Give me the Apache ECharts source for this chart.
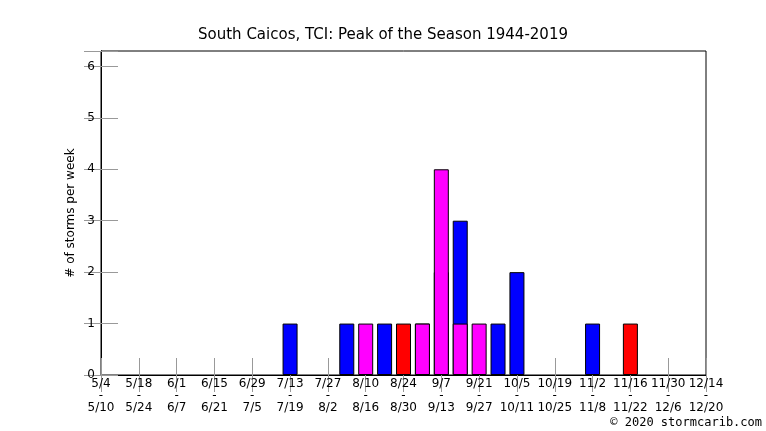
<!DOCTYPE html>
<html><head><meta charset="utf-8">
<script src="https://cdn.jsdelivr.net/npm/echarts@6/dist/echarts.min.js"></script>
<style>html,body{margin:0;background:#fff}#c{width:766px;height:431px}</style>
</head><body><div id="c"></div>
<script>
// week-start / week-end labels, one per two weeks (index 0..32)
const startLabels = ['5/4','5/18','6/1','6/15','6/29','7/13','7/27','8/10','8/24','9/7','9/21','10/5','10/19','11/2','11/16','11/30','12/14'];
const endLabels = ['5/10','5/24','6/7','6/21','7/5','7/19','8/2','8/16','8/30','9/13','9/27','10/11','10/25','11/8','11/22','12/6','12/20'];
// [week index, storms]
const blueData = [[10,1],[13,1],[15,1],[18,2],[19,3],[21,1],[22,2],[26,1]];
const redData = [[16,1],[17,1],[28,1]];
const magentaData = [[14,1],[17,1],[18,4],[19,1],[20,1]];
const WEEKS = 33;

// stacking needs aligned data indices, so spread each list over all weeks
function full(list) {
    const out = [];
    for (let i = 0; i < WEEKS; i++) out.push([i, null]);
    list.forEach(([w, v]) => { out[w] = [w, v]; });
    return out;
}

const font = 'DejaVu Sans';
const chart = echarts.init(document.getElementById('c'));
function fmt(v) {
    const i = Math.round(v / 2);
    return startLabels[i] + '\n-\n' + endLabels[i];
}
const barStyle = c => ({ color: c, borderColor: '#000', borderWidth: 1 });
const tickStyle = { color: '#999', width: 1 };
chart.setOption({
    animation: false,
    textStyle: { fontFamily: font },
    title: { text: 'South Caicos, TCI: Peak of the Season 1944-2019', left: 'center', top: 23,
        textStyle: { fontFamily: font, fontSize: 15, fontWeight: 'normal', color: '#000' } },
    graphic: [{ type: 'text', right: 4, top: 417,
        style: { text: '© 2020 stormcarib.com', font: '12px "DejaVu Sans Mono"', fill: '#000' } }],
    grid: { left: 101, right: 60, top: 51, bottom: 56, show: true, borderColor: '#000', borderWidth: 1 },
    xAxis: [{
        type: 'value', min: 0, max: 32, interval: 2, position: 'bottom',
        axisLine: { lineStyle: { color: '#000' } },
        axisTick: { inside: true, length: 17, lineStyle: tickStyle },
        axisLabel: { formatter: fmt, color: '#000', fontSize: 12, lineHeight: 12, margin: 3, fontFamily: font },
        splitLine: { show: false }
    }, {
        type: 'value', min: 0, max: 32, interval: 2, position: 'top',
        axisLine: { lineStyle: { color: '#000' } },
        axisTick: { inside: true, length: 17, lineStyle: tickStyle },
        axisLabel: { show: false }, splitLine: { show: false }
    }],
    yAxis: [{
        type: 'value', min: 0, max: 6.3, interval: 1,
        name: '# of storms per week', nameLocation: 'middle', nameGap: 22,
        nameTextStyle: { fontFamily: font, fontSize: 12, color: '#000' },
        axisLine: { show: true, lineStyle: { color: '#000' } },
        axisTick: { inside: true, length: 17, lineStyle: tickStyle },
        axisLabel: { color: '#000', fontSize: 12, fontFamily: font, margin: 6,
            formatter: v => Number.isInteger(v) ? v : '' },
        splitLine: { show: false }
    }, {
        type: 'value', min: 0, max: 6.3, interval: 1, position: 'right',
        axisLine: { show: true, lineStyle: { color: '#000' } },
        axisTick: { inside: true, length: 17, lineStyle: tickStyle },
        axisLabel: { show: false }, splitLine: { show: false }
    }],
    series: [
        { type: 'bar', stack: 's', barWidth: 15, data: full(blueData), itemStyle: barStyle('#0000ff') },
        { type: 'bar', stack: 's', barWidth: 15, data: full(redData), itemStyle: barStyle('#ff0000') },
        { type: 'bar', stack: 's', barWidth: 15, data: full(magentaData), itemStyle: barStyle('#ff00ff') }
    ]
});
</script></body></html>
